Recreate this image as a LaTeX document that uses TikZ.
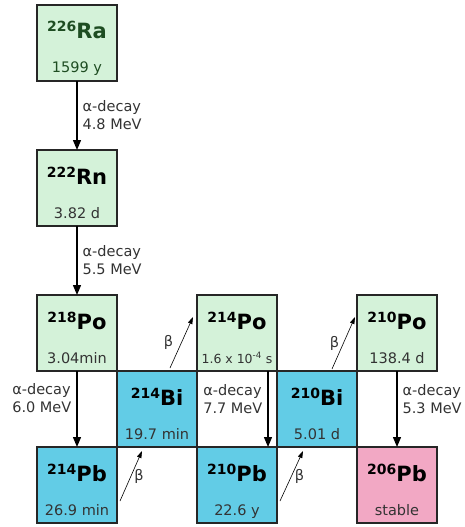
\documentclass[tikz,border=0pt]{standalone}
\usepackage{fontspec}
\setmainfont{DejaVu Sans}
\usetikzlibrary{arrows.meta, positioning}

\definecolor{pogreen}{HTML}{D4F2D9}
\definecolor{biblue}{HTML}{62CCE6}
\definecolor{pbpink}{HTML}{F2A8C4}
\definecolor{radark}{HTML}{1E4D22}
\definecolor{inkgray}{HTML}{333333}

\newcommand{\iso}[2]{{\fontsize{14}{14}\selectfont\raisebox{7pt}{#1}}#2}

\tikzset{
  nuc/.style={draw=black!85, line width=1.4pt, minimum width=80pt,
    minimum height=76pt, inner sep=0pt, outer sep=0pt},
  lightbox/.style={nuc, fill=pogreen},
  bluebox/.style={nuc, fill=biblue},
  pinkbox/.style={nuc, fill=pbpink},
  sym/.style={anchor=base, yshift=-34pt, font=\bfseries\fontsize{21}{21}\selectfont},
  life/.style={anchor=base, yshift=8pt, font=\fontsize{14.5}{16}\selectfont, text=inkgray},
  alpha/.style={-{Triangle[length=10pt,width=8pt]}, line width=1.3pt},
  beta/.style={-{Triangle[length=7pt,width=4.5pt]}, line width=0.6pt},
  lbl/.style={align=left, inner sep=2pt, font=\fontsize{14.5}{18}\selectfont, text=inkgray}
}

\begin{document}
\begin{tikzpicture}[x=1pt, y=1pt]
    \useasboundingbox (0,0) rectangle (464,-527);
    %
    \node [lightbox, label={[sym, text=radark]north:\iso{226}{Ra}},
      label={[life, text=radark]south:1599 y}] (ra) at (77,-43) {};
    \node [lightbox, below=69pt of ra, label={[sym]north:\iso{222}{Rn}},
      label={[life]south:3.82 d}] (rn) {};
    \node [lightbox, below=69pt of rn, label={[sym]north:\iso{218}{Po}},
      label={[life]south:3.04min}] (po218) {};
    \node [bluebox, below right=0pt and 0pt of po218, label={[sym]north:\iso{214}{Bi}},
      label={[life]south:19.7 min}] (bi214) {};
    \node [bluebox, below left=0pt and 0pt of bi214, label={[sym]north:\iso{214}{Pb}},
      label={[life]south:26.9 min}] (pb214) {};
    \node [lightbox, above right=0pt and 0pt of bi214, label={[sym]north:\iso{214}{Po}},
      label={[life, font=\fontsize{12.5}{14}\selectfont]south:1.6 x 10\textsuperscript{-4} s}] (po214) {};
    \node [bluebox, below right=0pt and 0pt of po214, label={[sym]north:\iso{210}{Bi}},
      label={[life]south:5.01 d}] (bi210) {};
    \node [bluebox, below left=0pt and 0pt of bi210, label={[sym]north:\iso{210}{Pb}},
      label={[life]south:22.6 y}] (pb210) {};
    \node [lightbox, above right=0pt and 0pt of bi210, label={[sym]north:\iso{210}{Po}},
      label={[life]south:138.4 d}] (po210) {};
    \node [pinkbox, below right=0pt and 0pt of bi210, label={[sym]north:\iso{206}{Pb}},
      label={[life]south:stable}] (pb206) {};
    %
    \draw [alpha] (ra) -- node[lbl, right=3pt] {α-decay\\4.8 MeV} (rn);
    \draw [alpha] (rn) -- node[lbl, right=3pt] {α-decay\\5.5 MeV} (po218);
    \draw [alpha] (po218) -- node[lbl, left=3pt, pos=0.36] {α-decay\\6.0 MeV} (pb214);
    \draw [alpha] ([xshift=31pt]po214.south) -- node[lbl, left=3pt, pos=0.37] {α-decay\\7.7 MeV}
      ([xshift=31pt]pb210.north);
    \draw [alpha] (po210) -- node[lbl, right=3pt, pos=0.37] {α-decay\\5.3 MeV} (pb206);
    %
    \draw [beta] ([shift={(13,3)}]bi214.north) -- node[lbl, left=6pt] {β}
      ([shift={(-4,54)}]po214.south west);
    \draw [beta] ([shift={(3,-16)}]pb214.east) -- node[lbl, right=1pt] {β}
      ([shift={(-15,-4)}]bi214.south);
    \draw [beta] ([shift={(15,2)}]bi210.north) -- node[lbl, left=2pt] {β}
      ([shift={(-2,54)}]po210.south west);
    \draw [beta] ([shift={(3,-16)}]pb210.east) -- node[lbl, right=1pt] {β}
      ([shift={(-14,-4)}]bi210.south);
\end{tikzpicture}
\end{document}
